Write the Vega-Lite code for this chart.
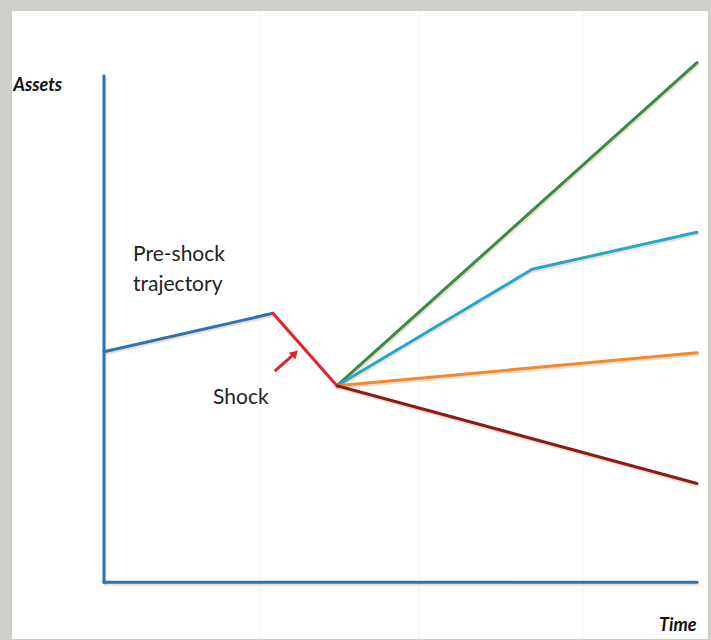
{
  "$schema": "https://vega.github.io/schema/vega-lite/v6.json",
  "autosize": {"type": "fit", "contains": "padding"},
  "width": 711,
  "height": 640,
  "padding": {"left": 12, "top": 10, "right": 3, "bottom": 0},
  "background": "#cfcfcb",
  "config": {"view": {"fill": "white", "stroke": null}},
  "datasets": {
    "lines": [
      {"series": "axis-y", "t": 0, "v": 0, "o": 1},
      {"series": "axis-y", "t": 0, "v": 10.0, "o": 2},
      {"series": "axis-x", "t": 0, "v": 0, "o": 1},
      {"series": "axis-x", "t": 10, "v": 0, "o": 2},
      {"series": "pre", "t": 0, "v": 4.55, "o": 1},
      {"series": "pre", "t": 2.85, "v": 5.31, "o": 2},
      {"series": "shock", "t": 2.85, "v": 5.31, "o": 1},
      {"series": "shock", "t": 3.93, "v": 3.88, "o": 2},
      {"series": "high", "t": 3.93, "v": 3.88, "o": 1},
      {"series": "high", "t": 10, "v": 10.26, "o": 2},
      {"series": "kinked", "t": 3.93, "v": 3.88, "o": 1},
      {"series": "kinked", "t": 7.22, "v": 6.18, "o": 2},
      {"series": "kinked", "t": 10, "v": 6.91, "o": 3},
      {"series": "modest", "t": 3.93, "v": 3.88, "o": 1},
      {"series": "modest", "t": 10, "v": 4.53, "o": 2},
      {"series": "decline", "t": 3.93, "v": 3.88, "o": 1},
      {"series": "decline", "t": 10, "v": 1.95, "o": 2}
    ],
    "grid": [
      {"t": 2.63}, {"t": 5.31}, {"t": 8.08}
    ],
    "arrow": [
      {"t": 2.88, "v": 4.17, "t2": 3.2, "v2": 4.5}
    ],
    "arrowhead": [
      {"t": 3.22, "v": 4.52}
    ],
    "labels": [
      {"label": "Pre-shock", "t": 0.49, "v": 6.34},
      {"label": "trajectory", "t": 0.49, "v": 5.75},
      {"label": "Shock", "t": 1.84, "v": 3.52}
    ],
    "titles": [
      {"label": "Assets", "t": -1.53, "v": 9.8},
      {"label": "Time", "t": 9.36, "v": -0.87}
    ]
  },
  "encoding": {
    "x": {"type": "quantitative", "scale": {"domain": [-1.551, 10.186], "nice": false, "zero": false}, "axis": null},
    "y": {"type": "quantitative", "scale": {"domain": [-1.122, 11.28], "nice": false, "zero": false}, "axis": null}
  },
  "layer": [
    {
      "data": {"name": "grid"},
      "mark": {"type": "rule", "stroke": "#f4f4f4", "strokeWidth": 1},
      "encoding": {"x": {"field": "t", "type": "quantitative"}}
    },
    {
      "data": {"name": "lines"},
      "mark": {"type": "line", "strokeWidth": 3, "strokeCap": "round", "strokeJoin": "round", "stroke": "#e6c2a6", "opacity": 0.55, "xOffset": 1, "yOffset": 2},
      "encoding": {
        "x": {"field": "t", "type": "quantitative"},
        "y": {"field": "v", "type": "quantitative"},
        "order": {"field": "o"},
        "detail": {"field": "series"}
      }
    },
    {
      "data": {"name": "lines"},
      "mark": {"type": "line", "strokeWidth": 3, "strokeCap": "round", "strokeJoin": "round"},
      "encoding": {
        "x": {"field": "t", "type": "quantitative"},
        "y": {"field": "v", "type": "quantitative"},
        "order": {"field": "o"},
        "detail": {"field": "series"},
        "color": {
          "field": "series",
          "type": "nominal",
          "legend": null,
          "scale": {
            "domain": ["axis-y", "axis-x", "pre", "shock", "high", "kinked", "modest", "decline"],
            "range": ["#2f72b3", "#2f72b3", "#2f72b3", "#e0262d", "#3a8a4c", "#27a6c8", "#ef8a2e", "#8a1c1c"]
          }
        }
      }
    },
    {
      "data": {"name": "arrow"},
      "mark": {"type": "rule", "stroke": "#e0262d", "strokeWidth": 3},
      "encoding": {
        "x": {"field": "t", "type": "quantitative"},
        "y": {"field": "v", "type": "quantitative"},
        "x2": {"field": "t2"},
        "y2": {"field": "v2"}
      }
    },
    {
      "data": {"name": "arrowhead"},
      "mark": {"type": "point", "shape": "triangle-up", "filled": true, "color": "#e0262d", "opacity": 1, "size": 90, "angle": 45},
      "encoding": {
        "x": {"field": "t", "type": "quantitative"},
        "y": {"field": "v", "type": "quantitative"}
      }
    },
    {
      "data": {"name": "labels"},
      "mark": {"type": "text", "align": "left", "baseline": "alphabetic", "font": "Lato", "fontSize": 21, "color": "#222222"},
      "encoding": {
        "x": {"field": "t", "type": "quantitative"},
        "y": {"field": "v", "type": "quantitative"},
        "text": {"field": "label"}
      }
    },
    {
      "data": {"name": "titles"},
      "mark": {"type": "text", "align": "left", "baseline": "middle", "font": "Lato", "fontSize": 18, "fontWeight": "bold", "fontStyle": "italic", "color": "#111111"},
      "encoding": {
        "x": {"field": "t", "type": "quantitative"},
        "y": {"field": "v", "type": "quantitative"},
        "text": {"field": "label"}
      }
    }
  ]
}
